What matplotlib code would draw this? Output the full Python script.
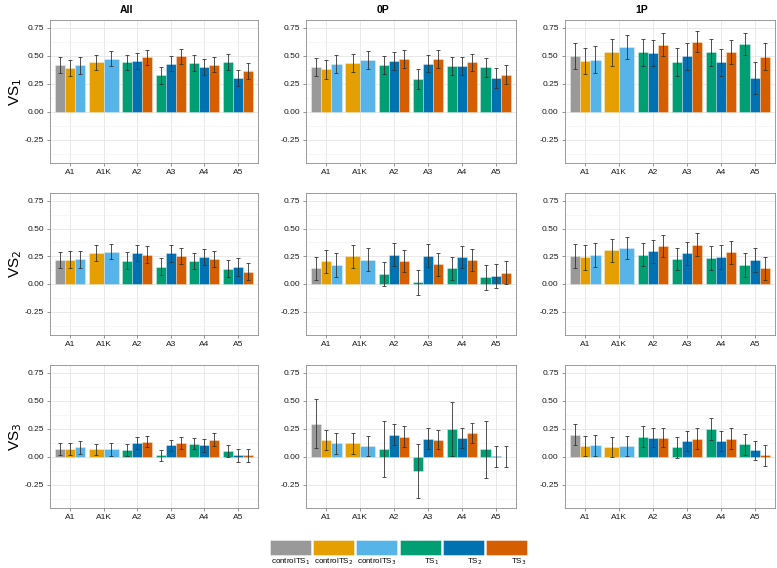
import matplotlib
matplotlib.use("Agg")
import matplotlib.pyplot as plt
from matplotlib.patches import Rectangle

plt.rcParams['font.family'] = ['Liberation Sans', 'DejaVu Sans']

# categories on the x axis and the series drawn in each one
CATEGORIES = ["A1", "A1K", "A2", "A3", "A4", "A5"]
SERIES = ["controlTS$_1$", "controlTS$_2$", "controlTS$_3$", "TS$_1$", "TS$_2$", "TS$_3$"]
SERIES_COLORS = ["#999999", "#E69F00", "#56B4E9", "#009E73", "#0072B2", "#D55E00"]
GROUP_SERIES = [[0, 1, 2], [1, 2], [3, 4, 5], [3, 4, 5], [3, 4, 5], [3, 4, 5]]

COLUMNS = ["All", "0P", "1P"]
ROWS = ["VS$_1$", "VS$_2$", "VS$_3$"]

# means and half-widths of the error bars, one inner list per category
VS1_ALL_MEAN = [[0.42, 0.39, 0.415], [0.44, 0.475], [0.44, 0.455, 0.485], [0.325, 0.43, 0.495], [0.435, 0.40, 0.42], [0.445, 0.30, 0.365]]
VS1_ALL_ERR = [[0.07, 0.07, 0.075], [0.068, 0.07], [0.068, 0.07, 0.07], [0.075, 0.068, 0.065], [0.068, 0.075, 0.068], [0.07, 0.073, 0.07]]
VS1_0P_MEAN = [[0.40, 0.38, 0.425], [0.435, 0.465], [0.42, 0.45, 0.47], [0.295, 0.43, 0.47], [0.41, 0.41, 0.44], [0.395, 0.30, 0.33]]
VS1_0P_ERR = [[0.08, 0.085, 0.08], [0.08, 0.08], [0.08, 0.08, 0.077], [0.09, 0.078, 0.077], [0.078, 0.08, 0.078], [0.085, 0.088, 0.085]]
VS1_1P_MEAN = [[0.50, 0.455, 0.465], [0.53, 0.575], [0.53, 0.525, 0.60], [0.445, 0.495, 0.625], [0.53, 0.44, 0.535], [0.605, 0.30, 0.49]]
VS1_1P_ERR = [[0.115, 0.115, 0.12], [0.12, 0.108], [0.12, 0.115, 0.10], [0.125, 0.12, 0.095], [0.12, 0.12, 0.105], [0.10, 0.145, 0.12]]

VS2_ALL_MEAN = [[0.215, 0.22, 0.223], [0.28, 0.29], [0.21, 0.283, 0.265], [0.155, 0.275, 0.253], [0.205, 0.245, 0.228], [0.137, 0.155, 0.11]]
VS2_ALL_ERR = [[0.075, 0.075, 0.075], [0.07, 0.068], [0.075, 0.072, 0.074], [0.077, 0.074, 0.07], [0.074, 0.074, 0.073], [0.075, 0.08, 0.075]]
VS2_0P_MEAN = [[0.14, 0.205, 0.17], [0.25, 0.22], [0.09, 0.265, 0.21], [0.015, 0.253, 0.178], [0.14, 0.24, 0.215], [0.06, 0.075, 0.10]]
VS2_0P_ERR = [[0.105, 0.105, 0.105], [0.104, 0.104], [0.11, 0.105, 0.10], [0.11, 0.104, 0.105], [0.107, 0.10, 0.10], [0.11, 0.108, 0.104]]
VS2_1P_MEAN = [[0.253, 0.24, 0.26], [0.305, 0.325], [0.265, 0.295, 0.343], [0.225, 0.275, 0.355], [0.235, 0.245, 0.285], [0.17, 0.215, 0.14]]
VS2_1P_ERR = [[0.105, 0.11, 0.107], [0.103, 0.10], [0.105, 0.105, 0.10], [0.10, 0.105, 0.10], [0.105, 0.11, 0.105], [0.107, 0.105, 0.107]]

VS3_ALL_MEAN = [[0.07, 0.07, 0.082], [0.065, 0.065], [0.06, 0.123, 0.135], [0.01, 0.10, 0.123], [0.115, 0.10, 0.153], [0.053, 0.01, 0.01]]
VS3_ALL_ERR = [[0.052, 0.052, 0.059], [0.05, 0.057], [0.053, 0.055, 0.052], [0.053, 0.053, 0.054], [0.051, 0.059, 0.06], [0.053, 0.061, 0.061]]
VS3_0P_MEAN = [[0.295, 0.147, 0.118], [0.118, 0.094], [0.065, 0.197, 0.177], [-0.127, 0.162, 0.153], [0.247, 0.168, 0.212], [0.065, 0.003, 0.0]]
VS3_0P_ERR = [[0.22, 0.09, 0.093], [0.093, 0.093], [0.25, 0.093, 0.093], [0.243, 0.09, 0.088], [0.243, 0.088, 0.09], [0.255, 0.092, 0.092]]
VS3_1P_MEAN = [[0.197, 0.094, 0.10], [0.088, 0.091], [0.18, 0.168, 0.168], [0.082, 0.141, 0.162], [0.25, 0.141, 0.162], [0.109, 0.056, 0.01]]
VS3_1P_ERR = [[0.096, 0.093, 0.093], [0.09, 0.09], [0.097, 0.085, 0.085], [0.098, 0.088, 0.09], [0.097, 0.09, 0.09], [0.097, 0.088, 0.095]]

PANEL_DATA = [
    [(VS1_ALL_MEAN, VS1_ALL_ERR), (VS1_0P_MEAN, VS1_0P_ERR), (VS1_1P_MEAN, VS1_1P_ERR)],
    [(VS2_ALL_MEAN, VS2_ALL_ERR), (VS2_0P_MEAN, VS2_0P_ERR), (VS2_1P_MEAN, VS2_1P_ERR)],
    [(VS3_ALL_MEAN, VS3_ALL_ERR), (VS3_0P_MEAN, VS3_0P_ERR), (VS3_1P_MEAN, VS3_1P_ERR)],
]

W, H = 777, 568
COL_X = [(50, 258), (306, 516), (565, 775)]   # pixel extents of the panels
ROW_Y = [(20, 163), (193, 335), (365, 508)]

YTICKS = [-0.25, 0.0, 0.25, 0.5, 0.75]
YMINOR = [-0.375, -0.125, 0.125, 0.375, 0.625]


def draw_panel(ax, means, errs):
    for gi, series in enumerate(GROUP_SERIES):
        n = len(series)
        w = 0.9 / n
        for k, si in enumerate(series):
            x = gi - 0.45 + w * (k + 0.5)
            m = means[gi][k]
            e = errs[gi][k]
            ax.bar(x, m, width=w, color=SERIES_COLORS[si],
                   edgecolor=(1, 1, 1, 0.45), linewidth=0.5, zorder=2)
            ax.errorbar(x, m, yerr=e, fmt='none', ecolor='#333333',
                        elinewidth=0.6, capsize=1.3, capthick=0.6, zorder=3)

    ax.set_xlim(-0.6, len(CATEGORIES) - 0.4)
    ax.set_ylim(-0.46, 0.82)
    ax.set_xticks(range(len(CATEGORIES)))
    ax.set_xticklabels(CATEGORIES)
    ax.set_yticks(YTICKS)
    ax.set_yticklabels([f"{t:.2f}" for t in YTICKS])
    ax.set_yticks(YMINOR, minor=True)
    ax.grid(True, which='major', color='#E5E5E5', linewidth=0.6, zorder=0)
    ax.grid(True, which='minor', axis='y', color='#F3F3F3', linewidth=0.5, zorder=0)
    ax.set_axisbelow(True)
    ax.tick_params(axis='both', which='major', labelsize=6, length=2.5,
                   width=0.5, color='#666666', pad=2, labelcolor='#1a1a1a')
    ax.tick_params(axis='y', which='minor', length=0)
    for sp in ax.spines.values():
        sp.set_color('#8c8c8c')
        sp.set_linewidth(0.6)


fig = plt.figure(figsize=(W / 100, H / 100), dpi=100)

for r in range(3):
    y0, y1 = ROW_Y[r]
    for c in range(3):
        x0, x1 = COL_X[c]
        ax = fig.add_axes([x0 / W, 1 - y1 / H, (x1 - x0) / W, (y1 - y0) / H])
        means, errs = PANEL_DATA[r][c]
        draw_panel(ax, means, errs)
    fig.text(16 / W, 1 - (y0 + y1) / 2 / H, ROWS[r], rotation=90,
             ha='center', va='center', fontsize=11)

for c in range(3):
    x0, x1 = COL_X[c]
    fig.text(((x0 + x1) / 2 - 28) / W, 1 - 10 / H, COLUMNS[c],
             ha='center', va='center', fontsize=7.5, fontweight='bold')

# legend along the bottom
lax = fig.add_axes([0, 0, 1, 1], facecolor='none')
lax.set_xlim(0, W)
lax.set_ylim(H, 0)
lax.axis('off')
key_w, key_h, pitch = 41, 15, 43.2
for i, (lab, col) in enumerate(zip(SERIES, SERIES_COLORS)):
    kx = 270 + i * pitch
    lax.add_patch(Rectangle((kx, 540), key_w, key_h, facecolor=col,
                            edgecolor=(1, 1, 1, 0.5), linewidth=0.6))
    lax.text(kx + key_w - 1, 561.5, lab, ha='right', va='center', fontsize=5.8)

fig.savefig("out.png", dpi=100)
